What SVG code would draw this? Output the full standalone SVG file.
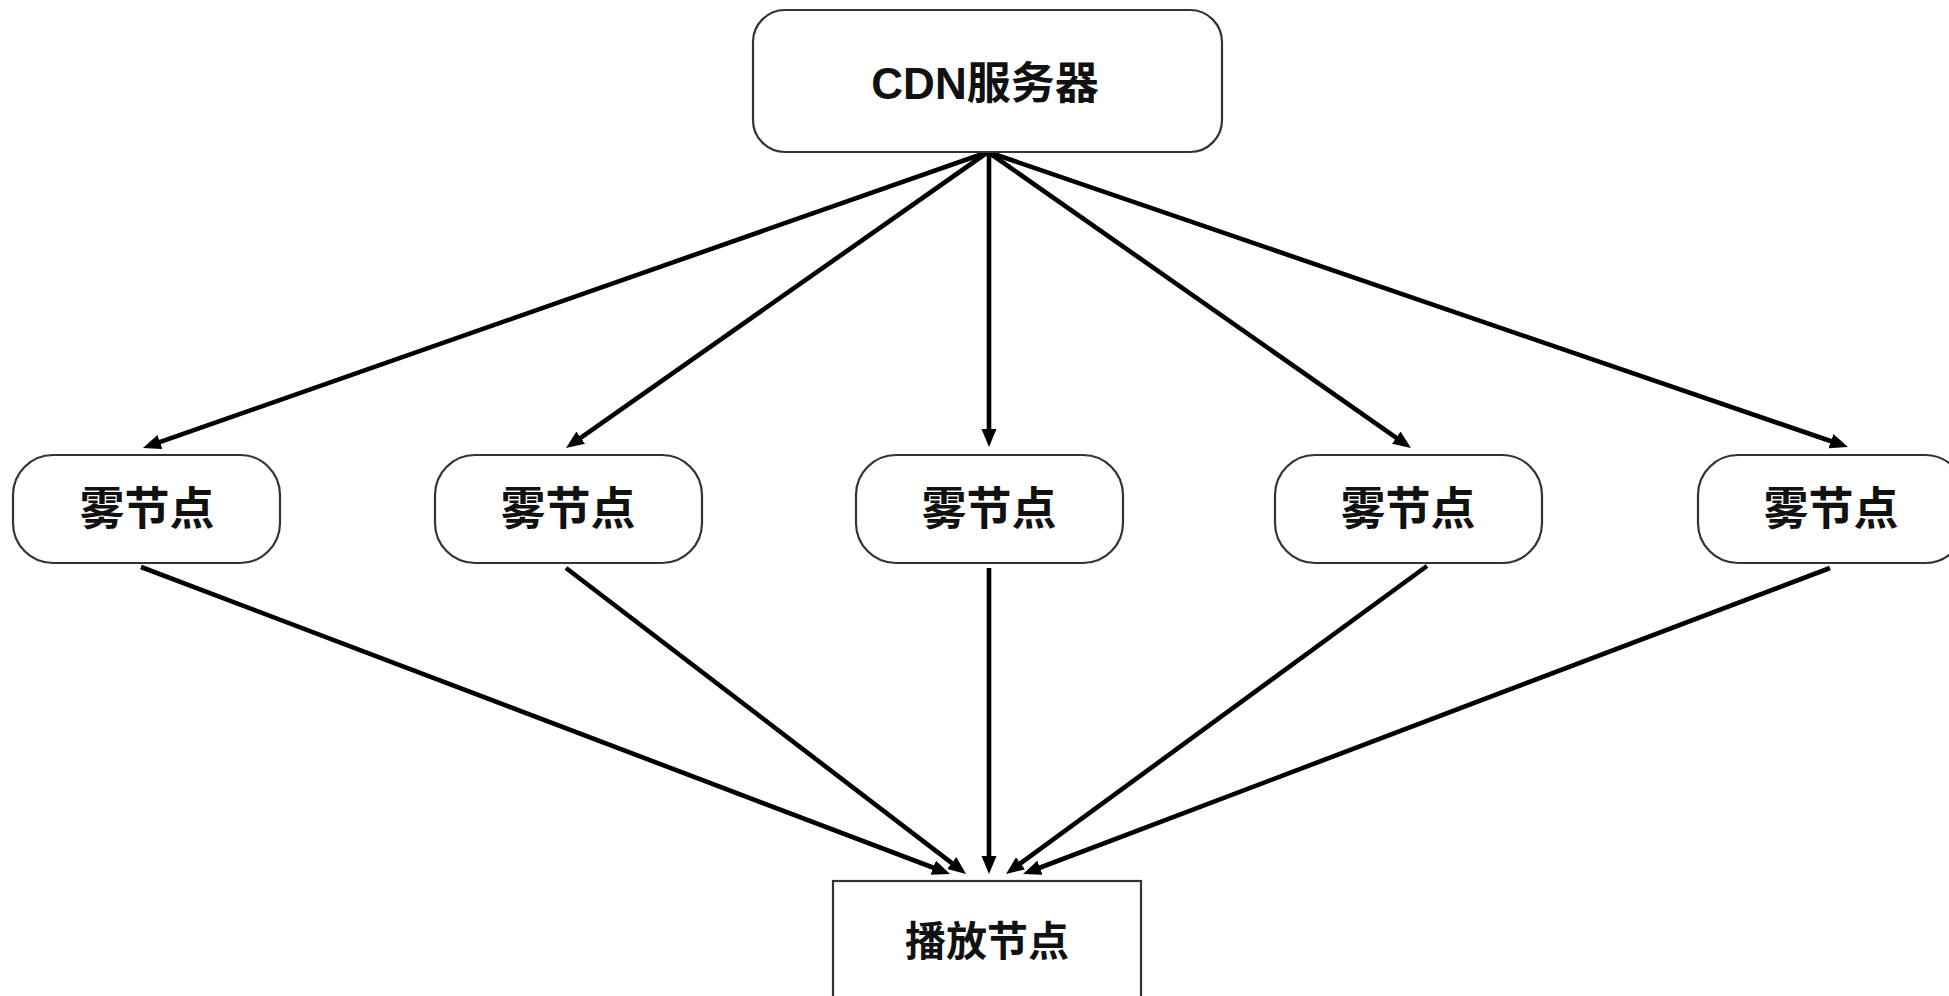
<svg xmlns="http://www.w3.org/2000/svg" width="1949" height="996" viewBox="0 0 1949 996">
<style>
.node{fill:#ffffff;stroke:#333333;stroke-width:2.2}
.lbl{font-family:"Liberation Sans","Noto Sans CJK SC",sans-serif;font-weight:bold;fill:#111111;text-anchor:middle;dominant-baseline:central}
.edge{stroke:#000000;stroke-width:4.6;fill:none}
</style>
<defs>
<marker id="arr" markerUnits="userSpaceOnUse" markerWidth="20" markerHeight="18" refX="8" refY="7.5" orient="auto">
<path d="M0,0 L18,7.5 L0,15 z" fill="#000000"/>
</marker>
</defs>
<rect width="1949" height="996" fill="#ffffff"/>
<g id="connectors">
<line class="edge" marker-end="url(#arr)" x1="988" y1="152" x2="152.4" y2="444.7"/>
<line class="edge" marker-end="url(#arr)" x1="988" y1="152" x2="574.2" y2="442.3"/>
<line class="edge" marker-end="url(#arr)" x1="989" y1="152" x2="989" y2="437"/>
<line class="edge" marker-end="url(#arr)" x1="988" y1="152" x2="1402.8" y2="442.3"/>
<line class="edge" marker-end="url(#arr)" x1="988" y1="152" x2="1838.5" y2="443.8"/>
<line class="edge" marker-end="url(#arr)" x1="141" y1="567" x2="940.7" y2="870.5"/>
<line class="edge" marker-end="url(#arr)" x1="566" y1="568" x2="958.1" y2="867.9"/>
<line class="edge" marker-end="url(#arr)" x1="989" y1="568" x2="989" y2="864"/>
<line class="edge" marker-end="url(#arr)" x1="1427" y1="566" x2="1014.1" y2="868.1"/>
<line class="edge" marker-end="url(#arr)" x1="1830" y1="568" x2="1032.4" y2="870.5"/>
</g>
<g id="cdn">
<rect class="node" x="753" y="10" width="469" height="142" rx="32" ry="32"/>
<text class="lbl" x="985" y="83" font-size="44">CDN服务器</text>
</g>
<g id="fog1">
<rect class="node" x="13" y="455" width="267" height="108" rx="40" ry="40"/>
<text class="lbl" x="147" y="509" font-size="45">雾节点</text>
</g>
<g id="fog2">
<rect class="node" x="435" y="455" width="267" height="108" rx="40" ry="40"/>
<text class="lbl" x="568" y="509" font-size="45">雾节点</text>
</g>
<g id="fog3">
<rect class="node" x="856" y="455" width="267" height="108" rx="40" ry="40"/>
<text class="lbl" x="989" y="509" font-size="45">雾节点</text>
</g>
<g id="fog4">
<rect class="node" x="1275" y="455" width="267" height="108" rx="40" ry="40"/>
<text class="lbl" x="1408" y="509" font-size="45">雾节点</text>
</g>
<g id="fog5">
<rect class="node" x="1698" y="455" width="267" height="108" rx="40" ry="40"/>
<text class="lbl" x="1831" y="509" font-size="45">雾节点</text>
</g>
<g id="play">
<rect class="node" x="833" y="881" width="308" height="140"/>
<text class="lbl" x="987" y="942" font-size="41">播放节点</text>
</g>
</svg>
